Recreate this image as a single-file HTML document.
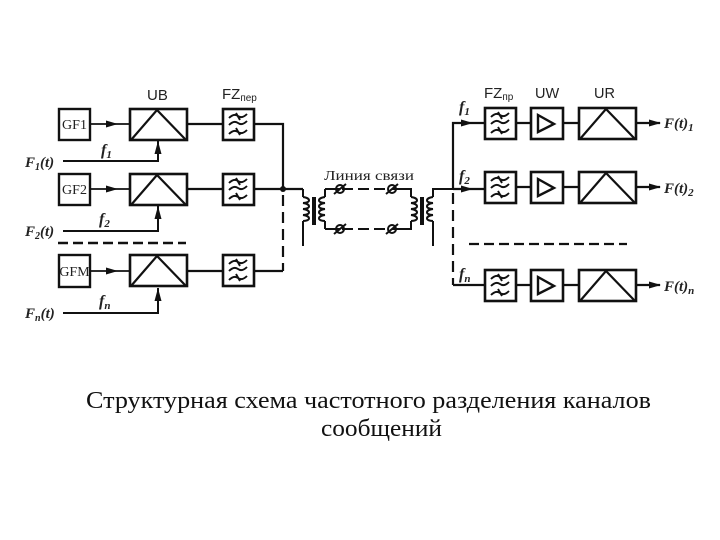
<!DOCTYPE html>
<html><head><meta charset="utf-8"><style>
html,body{margin:0;padding:0;background:#fff}
svg{display:block}
.l{font-family:"Liberation Sans",sans-serif;fill:#222}
.s{font-family:"Liberation Serif",serif;fill:#222}
.i{font-family:"Liberation Serif",serif;font-style:italic;font-weight:bold;fill:#222}
.c{font-family:"Liberation Serif",serif;fill:#111;font-size:24px}
</style></head><body>
<svg xmlns="http://www.w3.org/2000/svg" width="720" height="540" viewBox="0 0 720 540">
<defs>
<g id="fz"><rect x="1" y="1" width="31" height="31" fill="#fff" stroke="#111" stroke-width="2.6"/>
<path d="M7 10q5-5 9-2t9-2M7 17q5-5 9-2t9-2M7 26q5-5 9-2t9-2M14 5l4 7M14 20l4 7" fill="none" stroke="#111" stroke-width="1.9"/></g>
<g id="tri"><rect x="1" y="1" width="57" height="31" fill="#fff" stroke="#111" stroke-width="2.6"/>
<path d="M2 32L28 2L57 32" fill="none" stroke="#111" stroke-width="2.2"/></g>
<g id="uw"><rect x="1" y="1" width="32" height="31" fill="#fff" stroke="#111" stroke-width="2.6"/>
<path d="M8 8V25L24 17Z" fill="none" stroke="#111" stroke-width="2.4"/></g>
<path id="ah" d="M0 0L-12 -3.500V3.500Z" fill="#111"/>
<path id="au" d="M0 0L-3.500 13H3.500Z" fill="#111"/>
<path id="coil" d="M0 0c8 1 8 6 0 6c8 1 8 6 0 6c8 1 8 6 0 6c8 1 8 6 0 6" fill="none" stroke="#111" stroke-width="2"/>
<g id="term"><circle r="4" fill="none" stroke="#111" stroke-width="2"/><path d="M-6 5L6 -5" stroke="#111" stroke-width="2"/></g>
</defs>

<!-- left lines -->
<g stroke="#111" fill="none">
<path d="M90 124H129M90 189H129M90 271H129" stroke-width="1.8"/>
<path d="M187 124H223M187 189H223M187 271H223" stroke-width="2.2"/>
<path d="M255 124H283V189M255 189H303M255 271H283" stroke-width="2.2"/>
<path d="M283 189V271" stroke-width="2.2" stroke-dasharray="11 6" stroke-dashoffset="-6"/>
<path d="M63 161H158V141M63 231H158V206M63 313H158V288" stroke-width="2"/>
<path d="M58 243H186" stroke-width="2.400" stroke-dasharray="10 5"/>
</g>
<use href="#ah" x="118" y="124"/><use href="#ah" x="118" y="189"/><use href="#ah" x="118" y="271"/>
<use href="#au" x="158" y="141"/><use href="#au" x="158" y="206"/><use href="#au" x="158" y="288"/>
<circle cx="283" cy="189" r="3" fill="#111"/>

<rect x="59" y="109" width="31" height="31" fill="#fff" stroke="#111" stroke-width="2.400"/>
<rect x="59" y="174" width="31" height="31" fill="#fff" stroke="#111" stroke-width="2.400"/>
<rect x="59" y="255" width="31" height="32" fill="#fff" stroke="#111" stroke-width="2.400"/>
<text class="s" x="74.500" y="129" font-size="14" text-anchor="middle">GF1</text>
<text class="s" x="74.500" y="194" font-size="14" text-anchor="middle">GF2</text>
<text class="s" x="74.500" y="276" font-size="14" text-anchor="middle">GFM</text>

<use href="#tri" x="129" y="108"/><use href="#tri" x="129" y="173"/><use href="#tri" x="129" y="254"/>
<use href="#fz" x="222" y="108"/><use href="#fz" x="222" y="173"/><use href="#fz" x="222" y="254"/>

<text class="l" x="147" y="100" font-size="15">UB</text>
<text class="l" x="222" y="99" font-size="15">FZ<tspan font-size="10" dy="2">пер</tspan></text>
<text class="i" x="25" y="167" font-size="15">F<tspan font-size="10" dy="3">1</tspan><tspan dy="-3">(t)</tspan></text>
<text class="i" x="25" y="236" font-size="15">F<tspan font-size="10" dy="3">2</tspan><tspan dy="-3">(t)</tspan></text>
<text class="i" x="25" y="318" font-size="15">F<tspan font-size="10" dy="3">n</tspan><tspan dy="-3">(t)</tspan></text>
<text class="i" x="101" y="155" font-size="16">f<tspan font-size="11" dy="3">1</tspan></text>
<text class="i" x="99" y="224" font-size="16">f<tspan font-size="11" dy="3">2</tspan></text>
<text class="i" x="99" y="306" font-size="16">f<tspan font-size="11" dy="3">n</tspan></text>

<!-- transformers and line -->
<g fill="none" stroke="#111" stroke-width="2">
<path d="M303 189V197M303 221V246"/>
<path d="M325 189H340M325 229H340M325 189V197M325 221V229"/>
<path d="M342 189H390" stroke-dasharray="11 5"/><path d="M342 229H390" stroke-dasharray="11 5"/>
<path d="M392 189H411V197M392 229H411V221"/>
<path d="M433 197V189H453M433 221V246"/>
</g>
<use href="#coil" x="303" y="197"/>
<g transform="translate(325 197) scale(-1 1)"><use href="#coil"/></g>
<use href="#coil" x="411" y="197"/>
<g transform="translate(433 197) scale(-1 1)"><use href="#coil"/></g>
<rect x="312" y="197" width="4" height="28" fill="#111"/>
<rect x="420" y="197" width="4" height="28" fill="#111"/>
<use href="#term" x="340" y="189"/><use href="#term" x="392" y="189"/>
<use href="#term" x="340" y="229"/><use href="#term" x="392" y="229"/>
<text class="s" x="324" y="180" font-size="14" textLength="90" lengthAdjust="spacingAndGlyphs">Линия связи</text>

<!-- right lines -->
<g stroke="#111" fill="none">
<path d="M453 189V123H484M453 189H484M453 285H484" stroke-width="2.200"/>
<path d="M453 189V285" stroke-width="2.200" stroke-dasharray="11 6" stroke-dashoffset="-4"/>
<path d="M517 123H530M563 123H578M517 187H530M563 187H578M517 285H530M563 285H578" stroke-width="2.200"/>
<path d="M637 123H660M637 187H660M637 285H660" stroke-width="2.200"/>
<path d="M469 244H627" stroke-width="2.200" stroke-dasharray="10 5"/>
</g>
<use href="#ah" x="473" y="123"/><use href="#ah" x="473" y="189"/>
<use href="#ah" x="661" y="123"/><use href="#ah" x="661" y="187"/><use href="#ah" x="661" y="285"/>

<use href="#fz" x="484" y="107"/><use href="#fz" x="484" y="171"/><use href="#fz" x="484" y="269"/>
<use href="#uw" x="530" y="107"/><use href="#uw" x="530" y="171"/><use href="#uw" x="530" y="269"/>
<use href="#tri" x="578" y="107"/><use href="#tri" x="578" y="171"/><use href="#tri" x="578" y="269"/>

<text class="l" x="484" y="98" font-size="15">FZ<tspan font-size="10" dy="2">пр</tspan></text>
<text class="l" x="535" y="98" font-size="14.500">UW</text>
<text class="l" x="594" y="98" font-size="14.500">UR</text>
<text class="i" x="459" y="112" font-size="16">f<tspan font-size="11" dy="3">1</tspan></text>
<text class="i" x="459" y="181" font-size="16">f<tspan font-size="11" dy="3">2</tspan></text>
<text class="i" x="459" y="279" font-size="16">f<tspan font-size="11" dy="3">n</tspan></text>
<text class="i" x="664" y="128" font-size="15">F(t)<tspan font-size="11" dy="3">1</tspan></text>
<text class="i" x="664" y="193" font-size="15">F(t)<tspan font-size="11" dy="3">2</tspan></text>
<text class="i" x="664" y="291" font-size="15">F(t)<tspan font-size="11" dy="3">n</tspan></text>

<text class="c" x="86" y="408" textLength="565" lengthAdjust="spacingAndGlyphs">Структурная схема частотного разделения каналов</text>
<text class="c" x="321" y="436" textLength="121" lengthAdjust="spacingAndGlyphs">сообщений</text>
</svg>
</body></html>
